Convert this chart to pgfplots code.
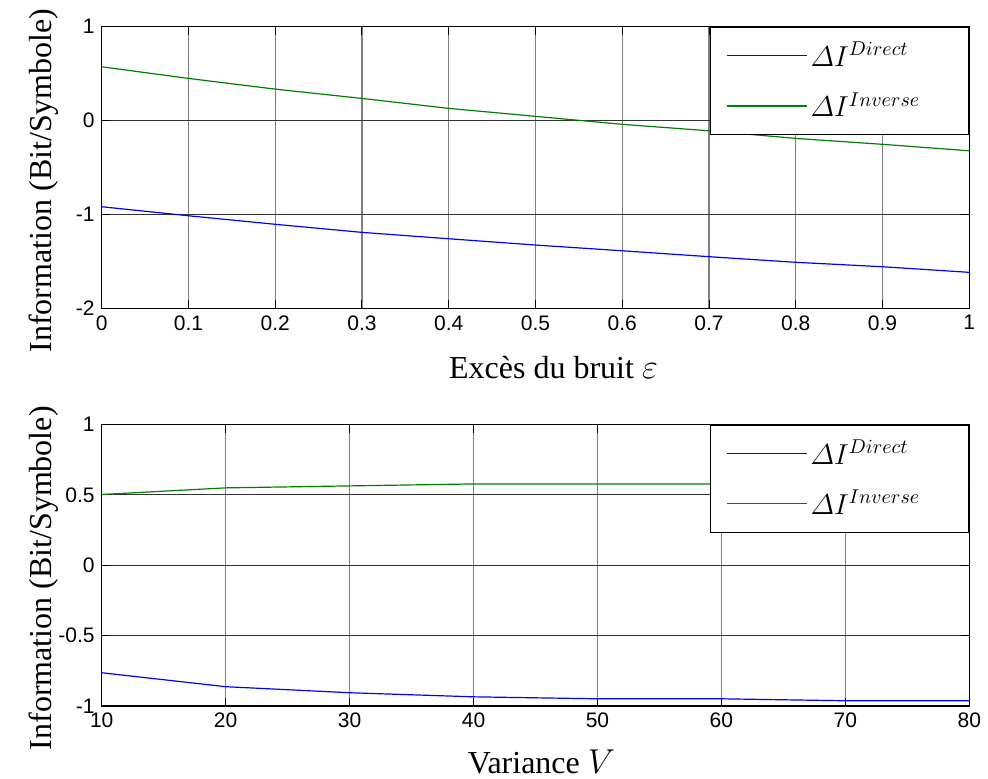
\documentclass[border=0pt]{standalone}
\usepackage{amsmath}
\usepackage{fontspec}
\setmainfont{Liberation Serif}
\setsansfont{Liberation Sans}
\usepackage{pgfplots}
\pgfplotsset{compat=1.18}

\definecolor{mgreen}{RGB}{0,128,0}

\pgfplotsset{
  matlab/.style={
    scale only axis,
    width=433.8pt, height=140.8pt,
    axis line style={draw=black, line width=0.7pt},
    tick align=inside,
    major tick length=4pt,
    tick style={draw=black, line width=0.5pt},
    grid=major,
    x grid style={draw=black!50, line width=0.6pt},
    y grid style={draw=black!80, line width=0.45pt},
    tick label style={font=\sffamily\fontsize{10.5}{12}\selectfont},
    /pgf/number format/assume math mode=true,
    ylabel={Information (Bit/Symbole)},
    every axis y label/.style={at={(axis description cs:0,0.5)}, xshift=-29pt, yshift=-6.5pt,
      rotate=90, anchor=center, font=\fontsize{16}{19}\selectfont},
    legend cell align=left,
    legend style={at={(1,1)}, anchor=north east, draw=black, line width=0.6pt, fill=white,
      inner xsep=8pt, inner ysep=5.5pt, row sep=7.5pt, font=\fontsize{14}{16}\selectfont},
  },
  mline/.style={draw=#1, line width=0.6pt,
    legend image code/.code={\fill[fill=#1, draw=none] (0pt,-0.3pt) rectangle (40pt,0.45pt);}},
}

\newcommand{\entry}[1]{\makebox[69pt][l]{$\varDelta I^{#1}$}}

\begin{document}
\begin{tikzpicture}
\begin{axis}[matlab,
  at={(0,0)}, anchor=south west,
  xmin=0, xmax=1, ymin=-2, ymax=1,
  xtick={0,0.1,...,1.01},
  xticklabels={0,0.1,0.2,0.3,0.4,0.5,0.6,0.7,0.8,0.9,1},
  ytick={-2,-1,0,1},
  xlabel={Excès du bruit $\varepsilon$},
  every axis x label/.style={at={(axis description cs:0.5,0)}, yshift=-29.5pt, xshift=9pt,
    anchor=center, font=\fontsize{16}{19}\selectfont},
]
\addplot[mline=blue] coordinates {
  (0,-0.918) (0.1,-1.014) (0.2,-1.105) (0.3,-1.191) (0.4,-1.259) (0.5,-1.326)
  (0.6,-1.387) (0.7,-1.450) (0.8,-1.510) (0.9,-1.557) (1,-1.617)};
\addlegendentry{\entry{Direct}}
\addplot[mline=mgreen] coordinates {
  (0,0.573) (0.1,0.449) (0.2,0.335) (0.3,0.236) (0.4,0.130) (0.5,0.045)
  (0.6,-0.040) (0.7,-0.109) (0.8,-0.190) (0.9,-0.253) (1,-0.322)};
\addlegendentry{\entry{Inverse}}
\end{axis}

\begin{axis}[matlab,
  at={(0,-198.9pt)}, anchor=south west,
  xmin=10, xmax=80, ymin=-1, ymax=1,
  xtick={10,20,...,80},
  ytick={-1,-0.5,0,0.5,1},
  yticklabels={-1,-0.5,0,0.5,1},
  xlabel={Variance $V$},
  every axis x label/.style={at={(axis description cs:0.5,0)}, yshift=-28pt, xshift=3pt,
    anchor=center, font=\fontsize{16}{19}\selectfont},
]
\addplot[mline=blue] coordinates {
  (10,-0.763) (20,-0.862) (30,-0.905) (40,-0.934) (50,-0.948) (60,-0.948)
  (70,-0.962) (80,-0.962)};
\addlegendentry{\entry{Direct}}
\addplot[mline=mgreen] coordinates {
  (10,0.503) (20,0.550) (30,0.564) (40,0.578) (50,0.578) (60,0.578)
  (70,0.580) (80,0.582)};
\addlegendentry{\entry{Inverse}}
\end{axis}
\pgfresetboundingbox
\path (-50.85pt,-234.85pt) rectangle (443.15pt,154.15pt);
\end{tikzpicture}
\end{document}
